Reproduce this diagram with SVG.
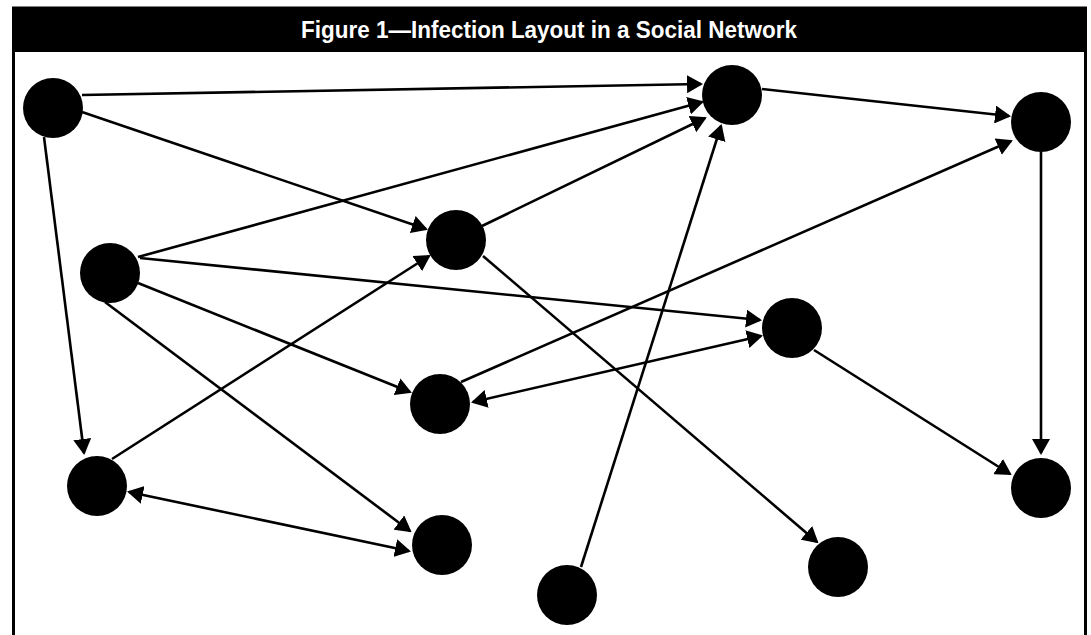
<svg xmlns="http://www.w3.org/2000/svg" width="1091" height="635" viewBox="0 0 1091 635">
<style>
.node{fill:#000}
.edge{stroke:#000;stroke-width:2.6;fill:none}
.title{font-family:"Liberation Sans Narrow","Liberation Sans",Arial,sans-serif;font-weight:bold;font-size:23px;fill:#fff}
</style>
<defs>
<marker id="ah" viewBox="0 0 16 18" refX="14" refY="9" markerWidth="16" markerHeight="18" markerUnits="userSpaceOnUse" orient="auto-start-reverse">
<path d="M0,0 L16,9 L0,18 Z" fill="#000"/>
</marker>
</defs>
<rect x="0" y="0" width="1091" height="635" fill="#fff"/>
<rect x="13.5" y="8" width="1072" height="640" fill="none" stroke="#000" stroke-width="3"/>
<rect x="12" y="8" width="1075" height="44" fill="#000"/>
<text class="title" x="549" y="38" text-anchor="middle" textLength="496" lengthAdjust="spacingAndGlyphs">Figure 1—Infection Layout in a Social Network</text>
<g id="edges">
<line class="edge" x1="82" y1="95" x2="701" y2="84" marker-end="url(#ah)"/>
<line class="edge" x1="82" y1="112" x2="426" y2="229" marker-end="url(#ah)"/>
<line class="edge" x1="44" y1="137" x2="84" y2="453" marker-end="url(#ah)"/>
<line class="edge" x1="138" y1="257" x2="702" y2="102" marker-end="url(#ah)"/>
<line class="edge" x1="482" y1="226" x2="705" y2="118" marker-end="url(#ah)"/>
<line class="edge" x1="581" y1="567" x2="721" y2="126" marker-end="url(#ah)"/>
<line class="edge" x1="762" y1="89" x2="1009" y2="116" marker-end="url(#ah)"/>
<line class="edge" x1="1041" y1="152" x2="1041" y2="453" marker-end="url(#ah)"/>
<line class="edge" x1="140" y1="258" x2="760" y2="320" marker-end="url(#ah)"/>
<line class="edge" x1="138" y1="283" x2="410" y2="392" marker-end="url(#ah)"/>
<line class="edge" x1="105" y1="302" x2="410" y2="531" marker-end="url(#ah)"/>
<line class="edge" x1="129" y1="492" x2="409" y2="551" marker-start="url(#ah)" marker-end="url(#ah)"/>
<line class="edge" x1="112" y1="459" x2="429" y2="256" marker-end="url(#ah)"/>
<line class="edge" x1="483" y1="256" x2="817" y2="542" marker-end="url(#ah)"/>
<line class="edge" x1="473" y1="402" x2="761" y2="336" marker-start="url(#ah)" marker-end="url(#ah)"/>
<line class="edge" x1="461" y1="382" x2="1011" y2="141" marker-end="url(#ah)"/>
<line class="edge" x1="814" y1="350" x2="1010" y2="474" marker-end="url(#ah)"/>
</g>
<g id="nA"><circle class="node" cx="53" cy="108" r="30"/></g>
<g id="nB"><circle class="node" cx="732" cy="95" r="30"/></g>
<g id="nC"><circle class="node" cx="1041" cy="122" r="30"/></g>
<g id="nD"><circle class="node" cx="456" cy="240" r="30"/></g>
<g id="nE"><circle class="node" cx="110" cy="273" r="30"/></g>
<g id="nF"><circle class="node" cx="792" cy="328" r="30"/></g>
<g id="nG"><circle class="node" cx="440" cy="404" r="30"/></g>
<g id="nH"><circle class="node" cx="97" cy="486" r="30"/></g>
<g id="nI"><circle class="node" cx="442" cy="545" r="30"/></g>
<g id="nJ"><circle class="node" cx="567" cy="595" r="30"/></g>
<g id="nK"><circle class="node" cx="838" cy="567" r="30"/></g>
<g id="nL"><circle class="node" cx="1041" cy="488" r="30"/></g>
</svg>
